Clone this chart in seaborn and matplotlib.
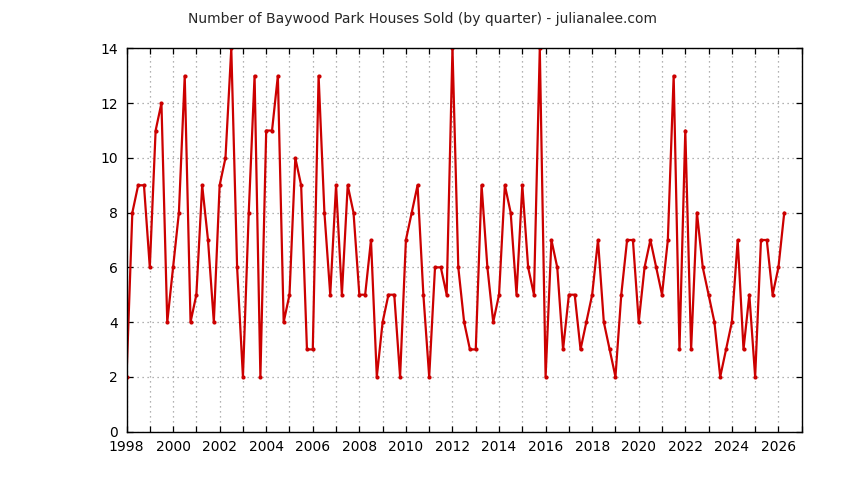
import numpy as np
import pandas as pd
import matplotlib
matplotlib.use('Agg')
import matplotlib.pyplot as plt
import matplotlib.ticker as ticker
import seaborn as sns

# houses sold per quarter, starting Q1 1998
sold = [2, 8, 9, 9, 6, 11, 12, 4, 6, 8, 13, 4, 5, 9, 7, 4,
        9, 10, 14, 6, 2, 8, 13, 2, 11, 11, 13, 4, 5, 10, 9, 3,
        3, 13, 8, 5, 9, 5, 9, 8, 5, 5, 7, 2, 4, 5, 5, 2,
        7, 8, 9, 5, 2, 6, 6, 5, 14, 6, 4, 3, 3, 9, 6, 4,
        5, 9, 8, 5, 9, 6, 5, 14, 2, 7, 6, 3, 5, 5, 3, 4,
        5, 7, 4, 3, 2, 5, 7, 7, 4, 6, 7, 6, 5, 7, 13, 3,
        11, 3, 8, 6, 5, 4, 2, 3, 4, 7, 3, 5, 2, 7, 7, 5,
        6, 8]
start_year = 1998
year_ticks = list(range(1998, 2027, 2))
y_ticks = list(range(0, 15, 2))

df = pd.DataFrame({'year': start_year + np.arange(len(sold)) / 4, 'sold': sold})

sns.set_style('white')
plt.rcParams['font.family'] = ['DejaVu Sans']

fig = plt.figure(figsize=(8.44, 4.8), dpi=100)
ax = fig.add_axes([0.1499, 0.101, 0.80, 0.798])

sns.lineplot(data=df, x='year', y='sold', color='#cc0000', linewidth=1.6,
             marker='o', markersize=3, markeredgewidth=0, ax=ax)

ax.set_xlim(1998, 2027)
ax.set_ylim(0, 14)
ax.set_xticks(year_ticks)
ax.xaxis.set_minor_locator(ticker.MultipleLocator(1))
ax.set_yticks(y_ticks)

ax.grid(which='major', color='#999999', linestyle=(0, (1, 3)), linewidth=0.9)
ax.grid(which='minor', axis='x', color='#999999', linestyle=(0, (1, 3)), linewidth=0.9)
ax.set_axisbelow(True)

ax.tick_params(which='both', direction='in', top=True, right=True,
               bottom=True, left=True, labelsize=10, pad=6, colors='black')
ax.tick_params(which='major', length=4.5, width=0.9)
ax.tick_params(which='minor', length=4, width=0.9)

for s in ax.spines.values():
    s.set_color('black')
    s.set_linewidth(1.0)

ax.set_xlabel('')
ax.set_ylabel('')

fig.text(0.5, 0.96, 'Number of Baywood Park Houses Sold (by quarter) - julianalee.com',
         ha='center', va='center', fontsize=10)

fig.savefig('out.png', dpi=100)
